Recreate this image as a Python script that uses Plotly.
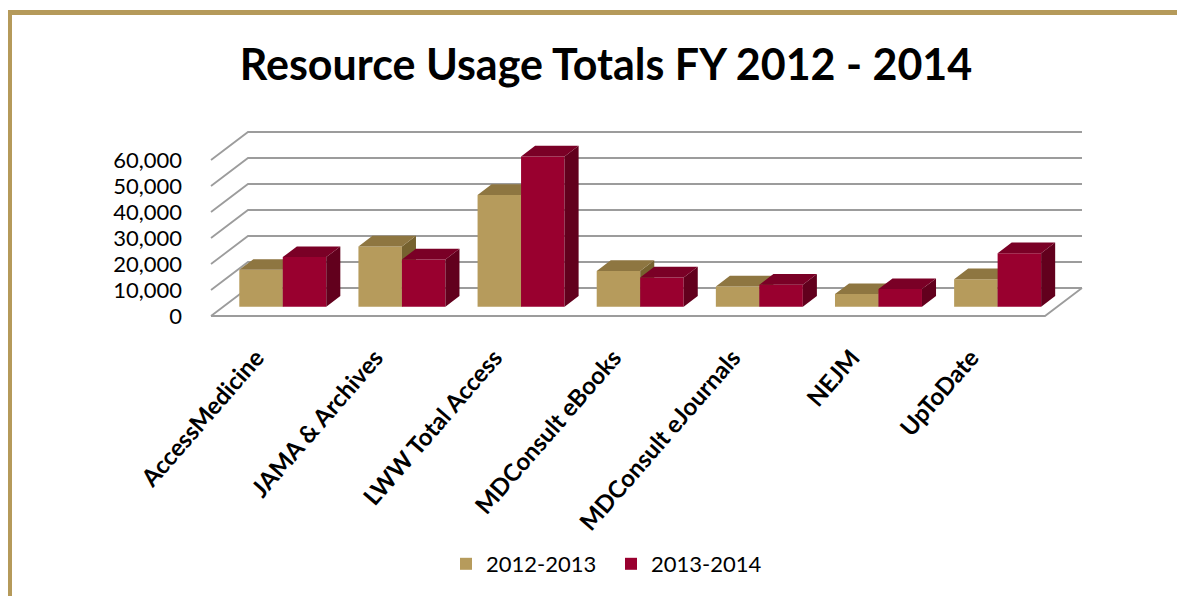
import plotly.graph_objects as go

# ---------------- data ----------------
categories = ["AccessMedicine", "JAMA & Archives", "LWW Total Access",
              "MDConsult eBooks", "MDConsult eJournals", "NEJM", "UpToDate"]
usage_2012_2013 = [14200, 23200, 43000, 13800, 7800, 4900, 10600]
usage_2013_2014 = [19100, 18200, 57800, 11300, 8500, 6800, 20600]
series_names = ["2012-2013", "2013-2014"]
y_ticks = [0, 10000, 20000, 30000, 40000, 50000, 60000]
title_text = "Resource Usage Totals FY 2012 - 2014"

# ---------------- styling / geometry (pixel targets in page coords) ----------------
W_PX, H_PX = 1185, 596
SHIFT = 8                        # page body margin offset
X0_PX, Y0_PX = 211, 316          # front-left floor corner in pixels
PX_PER_X = 119.14                # pixels per category
PX_PER_V = 26 / 10000            # pixels per unit of value
L_PX, R_PX, T_PX, B_PX = 205, 1090, 126, 320

DX = 37 / PX_PER_X               # depth offset (category units)
DY = 28 / PX_PER_V               # depth offset (value units)
F0 = 0.33                        # bar front depth fraction
FD = 0.38                        # bar depth fraction
BAR_W = 0.365                    # bar width (category units)
OFFSETS = [0.5 - BAR_W, 0.5]     # left edge of each series' bar inside category
LABEL_SHIFT = -0.12              # category label anchor shift

GOLD = dict(front="#B69B5C", top="#8E7641", side="#76622F")
RED = dict(front="#99002F", top="#7A0026", side="#62001D")
GRID = "#9C9C9C"
FRAME = "#B59A5A"
FONT = "Lato, Open Sans, sans-serif"

n = len(categories)
xr = [(L_PX - X0_PX) / PX_PER_X, (R_PX - X0_PX) / PX_PER_X]
yr = [-(B_PX - Y0_PX) / PX_PER_V, (Y0_PX - T_PX) / PX_PER_V]

fig = go.Figure()

# back wall / left wall gridlines + floor
gx, gy = [], []
for v in y_ticks:
    gx += [0, DX, n + DX, None]
    gy += [v, v + DY, v + DY, None]
gx += [0, n, n + DX, None]
gy += [0, 0, DY, None]
fig.add_trace(go.Scatter(x=gx, y=gy, mode="lines", line=dict(color=GRID, width=1.8),
                         hoverinfo="skip", showlegend=False, xaxis="x", yaxis="y"))


def add_series(values, name, colors, offset, xa, ya):
    base = F0 * DY
    xs = [i + offset + F0 * DX + BAR_W / 2 for i in range(n)]
    fig.add_trace(go.Bar(x=xs, y=values, base=base, width=BAR_W, name=name,
                         marker=dict(color=colors["front"], line=dict(width=0)),
                         xaxis=xa, yaxis=ya, showlegend=True))
    sx, sy, tx, ty = [], [], [], []
    for i, v in enumerate(values):
        L = i + offset + F0 * DX
        R = L + BAR_W
        B = base
        T = base + v
        a, b = FD * DX, FD * DY
        sx += [R, R + a, R + a, R, R, None]
        sy += [B, B + b, T + b, T, B, None]
        tx += [L, R, R + a, L + a, L, None]
        ty += [T, T, T + b, T + b, T, None]
    fig.add_trace(go.Scatter(x=sx, y=sy, mode="lines", fill="toself",
                             fillcolor=colors["side"], line=dict(width=0, color=colors["side"]),
                             hoverinfo="skip", showlegend=False, xaxis=xa, yaxis=ya))
    fig.add_trace(go.Scatter(x=tx, y=ty, mode="lines", fill="toself",
                             fillcolor=colors["top"], line=dict(width=0, color=colors["top"]),
                             hoverinfo="skip", showlegend=False, xaxis=xa, yaxis=ya))


add_series(usage_2012_2013, series_names[0], GOLD, OFFSETS[0], "x2", "y2")
add_series(usage_2013_2014, series_names[1], RED, OFFSETS[1], "x3", "y3")

plot_w = R_PX - L_PX
plot_h = B_PX - T_PX


def px_x(p):
    return (p - L_PX) / plot_w


def px_y(p):
    return (B_PX - p) / plot_h


hidden = dict(range=xr, visible=False, showgrid=False, zeroline=False, fixedrange=True)
fig.update_layout(
    width=W_PX, height=H_PX,
    margin=dict(l=L_PX - SHIFT, r=W_PX - (R_PX - SHIFT), t=T_PX - SHIFT,
                b=H_PX - (B_PX - SHIFT), pad=0),
    paper_bgcolor="white", plot_bgcolor="rgba(0,0,0,0)",
    barmode="overlay",
    title=dict(text=title_text, x=(606 - SHIFT) / W_PX, xanchor="center",
               y=1 - (65 - SHIFT) / H_PX, yanchor="middle",
               font=dict(family=FONT, size=43, color="black", weight="bold")),
    xaxis=dict(range=xr, tickvals=[i + 0.5 + LABEL_SHIFT for i in range(n)], ticktext=categories,
               tickangle=-49, showgrid=False, zeroline=False, showline=False, ticks="",
               ticklabelstandoff=18,
               tickfont=dict(family=FONT, size=24, color="black", weight="bold")),
    yaxis=dict(range=yr, tickvals=y_ticks, tickformat=",", showgrid=False, zeroline=False,
               showline=False, ticks="", ticklabelstandoff=22,
               tickfont=dict(family=FONT, size=22, color="black")),
    xaxis2=dict(hidden, overlaying="x"),
    yaxis2=dict(range=yr, visible=False, overlaying="y"),
    xaxis3=dict(hidden, overlaying="x"),
    yaxis3=dict(range=yr, visible=False, overlaying="y"),
    legend=dict(orientation="h", x=px_x(611), xanchor="center", y=px_y(564), yanchor="middle",
                entrywidth=120, entrywidthmode="pixels",
                font=dict(family=FONT, size=22, color="black"),
                bgcolor="rgba(0,0,0,0)"),
    shapes=[dict(type="rect", xref="paper", yref="paper",
                 x0=px_x(9.5), x1=px_x(1220), y0=px_y(12.5), y1=px_y(640),
                 line=dict(color=FRAME, width=5), fillcolor="rgba(0,0,0,0)", layer="above")],
)

fig.write_html("out.html")
